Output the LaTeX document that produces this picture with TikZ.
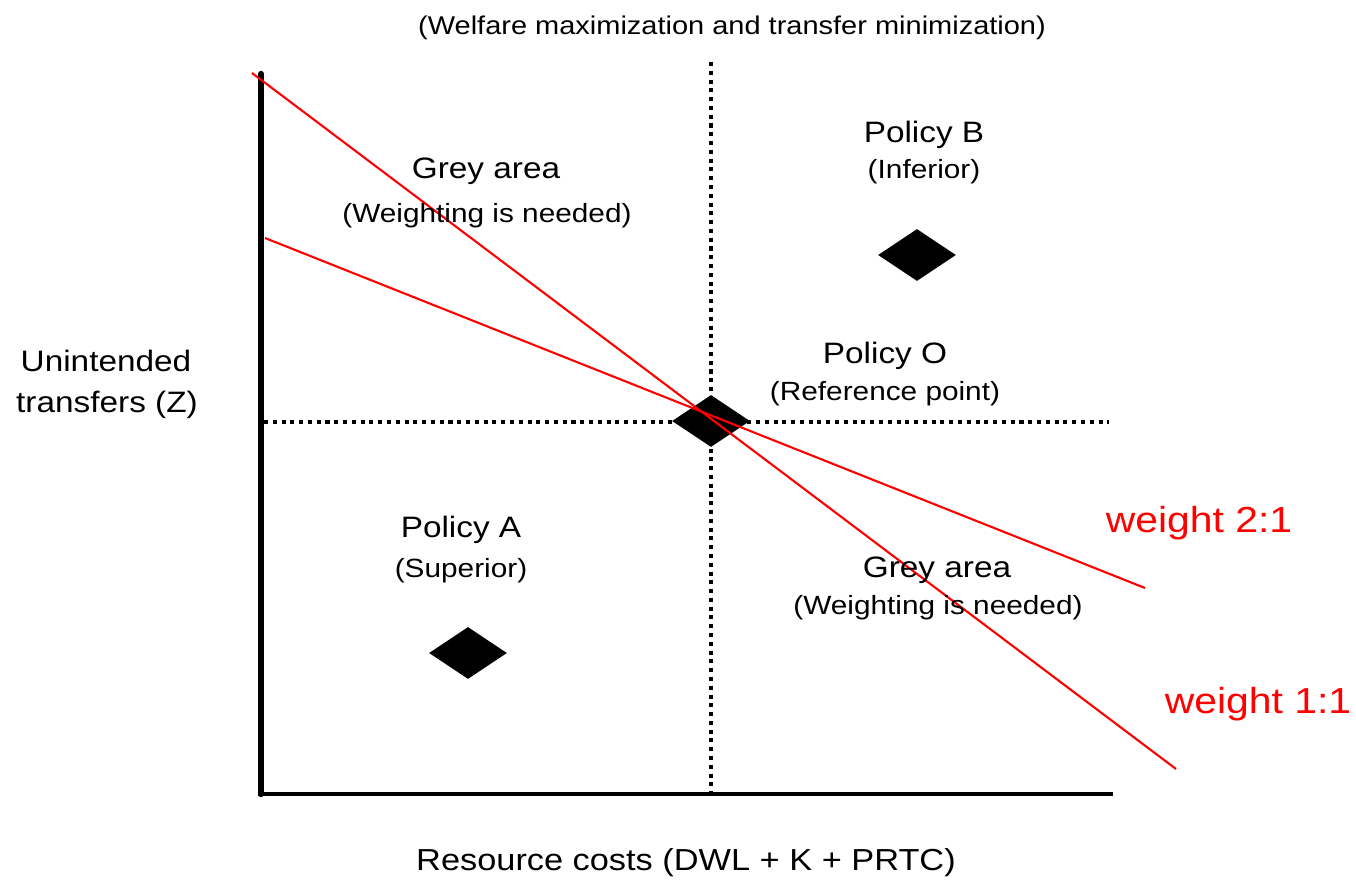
\documentclass[tikz,border=0pt]{standalone}
\usepackage{fontspec}
\setmainfont{Liberation Sans}[FakeStretch=1.13]
\usetikzlibrary{shapes.geometric}

% sizes (pt) of the text weights used in the chart
\newcommand{\bigsize}{\fontsize{16.8}{20}\selectfont}
\newcommand{\axissize}{\fontsize{17.3}{21}\selectfont}
\newcommand{\smallsize}{\fontsize{15}{18}\selectfont}
\newcommand{\titlesize}{\fontsize{14.6}{18}\selectfont}
\newcommand{\redsize}{\fontsize{20.6}{24}\selectfont}

\tikzset{
  pxgrid/.style={x=0.02cm, y=-0.02cm},
  yaxisline/.style={line width=3.6pt, line cap=round},
  xaxisline/.style={line width=2.8pt},
  dotline/.style={line width=2.3pt, dash pattern=on 2.3pt off 2.7pt},
  policy/.style={diamond, fill=black, draw=none, inner sep=0pt,
                 minimum width=1.56cm, minimum height=1.04cm},
  weightline/.style={red, line width=1.2pt},
  headtext/.style={anchor=base, inner sep=0pt, font=\bigsize},
  subtext/.style={anchor=base, inner sep=0pt, font=\smallsize},
  redtext/.style={anchor=base, inner sep=0pt, text=red, font=\redsize},
}

\begin{document}
\begin{tikzpicture}[pxgrid]
\useasboundingbox (0,0) rectangle (1356,880);

% axes
\coordinate (ytop) at (261,74);
\coordinate (origin) at (261,794);
\coordinate (xleft) at (258,794);
\coordinate (xright) at (1113,794);
\draw[yaxisline] (ytop) -- (origin);
\draw[xaxisline] (xleft) -- (xright);

% dotted cross through the reference point
\coordinate (vtop) at (711,62);
\coordinate (vbot) at (711,792);
\coordinate (hleft) at (264,422);
\coordinate (hright) at (1109,422);
\draw[dotline] (vtop) -- (vbot);
\draw[dotline] (hleft) -- (hright);

% policies
\node[policy] (polO) at (711,421) {};
\node[policy] (polB) at (917,255) {};
\node[policy] (polA) at (468,653) {};

% iso-welfare lines
\coordinate (w11a) at (252,73);
\coordinate (w11b) at (1176,769);
\coordinate (w21a) at (265,238);
\coordinate (w21b) at (1145,588);
\draw[weightline] (w11a) -- (w11b);
\draw[weightline] (w21a) -- (w21b);

% labels
\node[anchor=base, inner sep=0pt, font=\titlesize] (title) at (732,34)
  {(Welfare maximization and transfer minimization)};

\node[headtext] (greyU) at (486,178) {Grey area};
\node[subtext] (greyUs) at (487,222) {(Weighting is needed)};

\node[headtext] (labB) at (924,142) {Policy B};
\node[subtext] (labBs) at (924,178) {(Inferior)};

\node[headtext] (labO) at (885,363) {Policy O};
\node[subtext] (labOs) at (885,400) {(Reference point)};

\node[headtext] (labA) at (461,537) {Policy A};
\node[subtext] (labAs) at (461,577) {(Superior)};

\node[headtext] (greyL) at (937,577) {Grey area};
\node[subtext] (greyLs) at (938,614) {(Weighting is needed)};

\node[headtext] (ylab1) at (106,371) {Unintended};
\node[headtext] (ylab2) at (107,412) {transfers (Z)};

\node[anchor=base, inner sep=0pt, font=\axissize] (xlab) at (686,870)
  {Resource costs (DWL + K + PRTC)};

\node[redtext] (w21lab) at (1199,532) {weight 2:1};
\node[redtext] (w11lab) at (1258,713) {weight 1:1};
\end{tikzpicture}
\end{document}
